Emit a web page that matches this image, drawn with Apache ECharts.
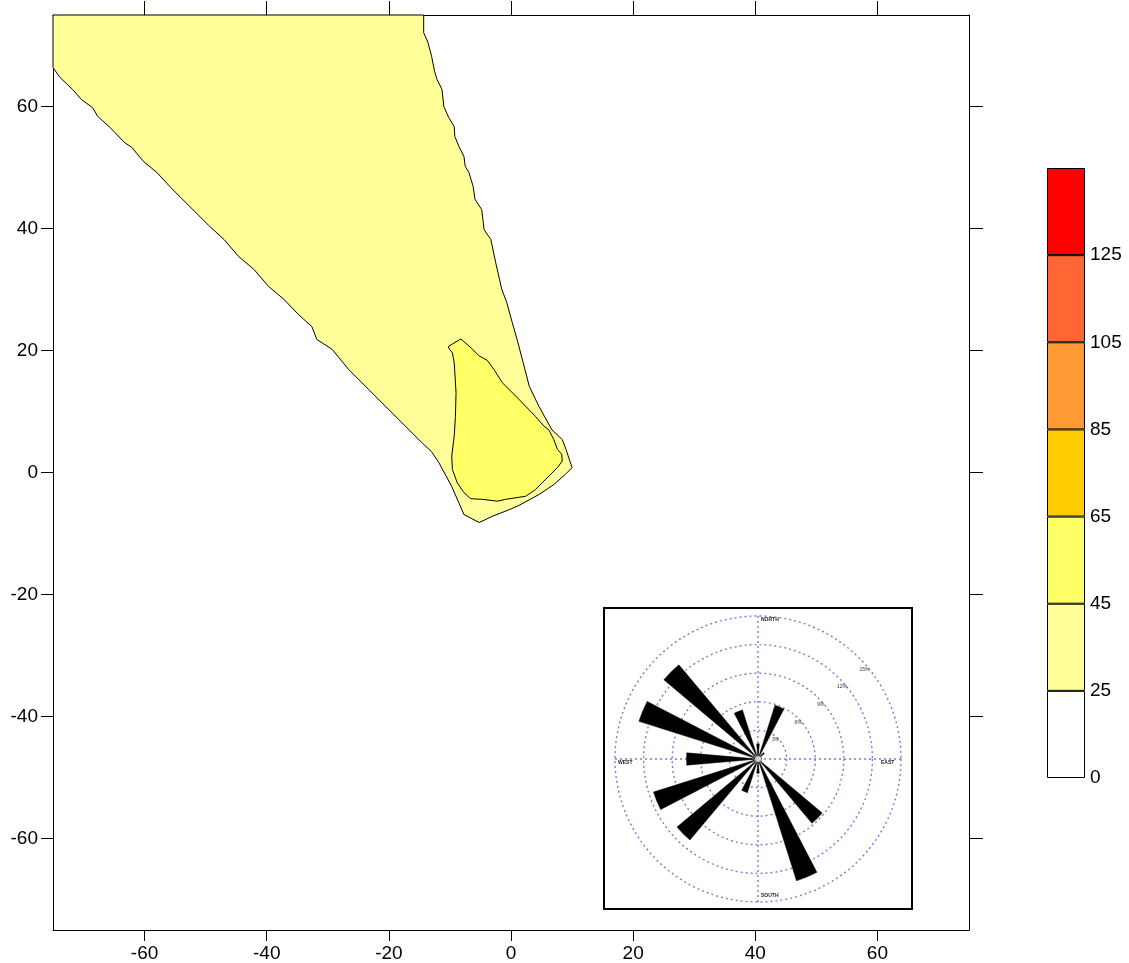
<!DOCTYPE html>
<html>
<head>
<meta charset="utf-8">
<script src="https://cdn.jsdelivr.net/npm/echarts@6/dist/echarts.min.js"></script>
<style>
  html, body { margin: 0; padding: 0; background: #fff; }
  #chart { width: 1129px; height: 963px; }
</style>
</head>
<body>
<div id="chart"></div>
<script>
// Axis ticks of the map (metres from the source)
const xTicks = [-60, -40, -20, 0, 20, 40, 60];
const yTicks = [-60, -40, -20, 0, 20, 40, 60];

// Contour levels and their fill colours
const levelLabels = ['0', '25', '45', '65', '85', '105', '125'];
const bandColors = ['#FFFFFF', '#FFFF99', '#FFFF66', '#FFCC00', '#FF9933', '#FF6633', '#FF0000'];

// Contour 25-45 (outer plume)
const zone25 = [
  [-75, 75], [-14.3, 75], [-14.3, 72.1], [-13.6, 70.5], [-13.0, 68.2], [-12.5, 65.7],
  [-12.1, 64.4], [-11.3, 62.8], [-11.0, 60.0], [-10.2, 58.2], [-9.3, 56.7], [-9.2, 55.1],
  [-8.5, 53.4], [-7.7, 51.8], [-7.5, 50.2], [-6.9, 49.2], [-6.2, 46.9], [-5.9, 44.8],
  [-4.8, 43.1], [-4.4, 39.8], [-3.3, 38.2], [-2.5, 34.4], [-1.5, 30.0], [-0.7, 27.9],
  [0.2, 24.6], [1.0, 21.8], [2.0, 18.0], [3.0, 14.1], [4.6, 10.8], [6.7, 7.0],
  [8.4, 5.4], [9.0, 3.8], [10.0, 0.8], [8.9, -0.3], [7.0, -2.0], [4.6, -3.6],
  [1.3, -5.4], [-0.3, -6.1], [-3.1, -7.2], [-5.2, -8.2], [-7.7, -6.9], [-9.7, -2.3],
  [-11.8, 1.6], [-13.0, 3.4], [-14.6, 4.9], [-18.4, 8.7], [-23.3, 13.6], [-26.6, 16.9],
  [-29.3, 20.2], [-31.8, 21.8], [-32.6, 23.9], [-34.8, 25.9], [-37.2, 28.4], [-39.7, 30.5],
  [-42.1, 33.3], [-44.6, 35.4], [-47.0, 38.2], [-49.5, 40.5], [-51.8, 42.8], [-53.9, 44.9],
  [-55.7, 46.7], [-58.0, 49.2], [-60.2, 51.0], [-62.1, 53.3], [-63.3, 54.1], [-65.7, 56.6],
  [-67.7, 58.4], [-68.5, 59.8], [-70.3, 61.1], [-71.8, 62.8], [-73.9, 64.8], [-75, 66.4]
];

// Contour 45-65 (inner core)
const zone45 = [
  [-10.2, 20.7], [-8.2, 21.9], [-6.3, 20.2], [-5.2, 19.1], [-3.9, 18.4], [-2.8, 16.9],
  [-1.4, 14.7], [1.3, 12.0], [4.0, 9.2], [5.4, 7.6], [6.2, 7.0], [7.0, 5.4],
  [7.6, 3.8], [8.3, 3.0], [8.4, 1.9], [7.6, 0.8], [6.2, -0.6], [5.1, -1.7],
  [4.0, -2.8], [2.4, -3.9], [-0.9, -4.4], [-2.2, -4.7], [-4.7, -4.4], [-6.6, -4.3],
  [-7.7, -3.3], [-8.8, -1.7], [-9.6, 0.5], [-9.7, 2.7], [-9.3, 6.0], [-9.1, 9.2],
  [-9.0, 13.1], [-9.3, 18.0], [-9.6, 19.6], [-10.2, 20.4]
];

// Wind rose: frequency (%) for each of 16 directions
const directions = ['N', 'NNE', 'NE', 'ENE', 'E', 'ESE', 'SE', 'SSE',
                    'S', 'SSW', 'SW', 'WSW', 'W', 'WNW', 'NW', 'NNW'];
const windFreq = [1.6, 5.9, 0.9, 0, 0, 0, 8.8, 13.4, 1.5, 3.7, 11.1, 11.5, 7.5, 13.1, 12.9, 5.4];
const ringMax = 15;
const ringStep = 3;

const FONT = '"Liberation Sans", Arial, sans-serif';
const roseCenter = [758, 759];
const roseRadius = 143;
const gridLine = { color: '#7b7bd6', width: 1.4, type: [2, 3] };

function polygonSeries(points, color, z) {
  return {
    type: 'custom',
    xAxisIndex: 0,
    yAxisIndex: 0,
    data: points,
    z: z,
    renderItem: function (params, api) {
      if (params.dataIndex !== 0) return;
      const pts = points.map(p => api.coord(p));
      return {
        type: 'polygon',
        shape: { points: pts },
        style: { fill: color, stroke: '#000', lineWidth: 1 }
      };
    }
  };
}

const colorbarSeries = bandColors.map((c) => ({
  type: 'bar',
  xAxisIndex: 2,
  yAxisIndex: 2,
  stack: 'bar',
  barWidth: '100%',
  data: [1],
  itemStyle: { color: c, borderColor: '#000', borderWidth: 1 },
  silent: true
}));

const frameLine = { show: true, onZero: false, lineStyle: { color: '#000', width: 1 } };
const tickStyle = { color: '#000', width: 1 };

const option = {
  animation: false,
  backgroundColor: '#fff',
  textStyle: { fontFamily: FONT },
  grid: [
    { left: 53, top: 15, width: 916, height: 915 },
    { left: 1047, top: 168, width: 38, height: 610 }
  ],
  xAxis: [
    {
      gridIndex: 0, type: 'value', min: -75, max: 75, position: 'bottom',
      axisLine: frameLine,
      axisTick: { customValues: xTicks, length: 11, lineStyle: tickStyle },
      axisLabel: { customValues: xTicks, margin: 14, fontSize: 19, color: '#000', fontFamily: FONT },
      splitLine: { show: false }
    },
    {
      gridIndex: 0, type: 'value', min: -75, max: 75, position: 'top',
      axisLine: frameLine,
      axisTick: { customValues: xTicks, length: 14, lineStyle: tickStyle },
      axisLabel: { show: false },
      splitLine: { show: false }
    },
    {
      gridIndex: 1, type: 'category', data: ['level'],
      show: false
    }
  ],
  yAxis: [
    {
      gridIndex: 0, type: 'value', min: -75, max: 75, position: 'left',
      axisLine: frameLine,
      axisTick: { show: true, customValues: yTicks, length: 12, lineStyle: tickStyle },
      axisLabel: { customValues: yTicks, margin: 15, fontSize: 19, color: '#000', fontFamily: FONT },
      splitLine: { show: false }
    },
    {
      gridIndex: 0, type: 'value', min: -75, max: 75, position: 'right',
      axisLine: frameLine,
      axisTick: { show: true, customValues: yTicks, length: 14, lineStyle: tickStyle },
      axisLabel: { show: false },
      splitLine: { show: false }
    },
    {
      gridIndex: 1, type: 'value', min: 0, max: bandColors.length, position: 'right',
      axisLine: { show: false },
      axisTick: { show: false },
      splitLine: { show: false },
      axisLabel: {
        customValues: levelLabels.map((_, i) => i),
        formatter: v => levelLabels[v] ?? '',
        margin: 5, fontSize: 19, color: '#000', fontFamily: FONT
      }
    }
  ],
  polar: [
    { center: roseCenter, radius: roseRadius },
    { center: roseCenter, radius: roseRadius },
    { center: roseCenter, radius: roseRadius }
  ],
  angleAxis: [
    {
      polarIndex: 0, type: 'category', data: directions,
      startAngle: 90 + 360 / directions.length / 2, clockwise: true,
      axisLine: { show: false }, axisTick: { show: false },
      axisLabel: { show: false }, splitLine: { show: false }
    },
    {
      polarIndex: 1, type: 'value', min: 0, max: 360, interval: 90,
      startAngle: 90, clockwise: true,
      axisLine: { show: false }, axisTick: { show: false },
      axisLabel: { show: false },
      splitLine: { show: true, lineStyle: gridLine }
    },
    {
      polarIndex: 2, type: 'value', min: 0, max: 360, startAngle: 38,
      axisLine: { show: false }, axisTick: { show: false },
      axisLabel: { show: false }, splitLine: { show: false }
    }
  ],
  radiusAxis: [
    {
      polarIndex: 0, type: 'value', min: 0, max: ringMax,
      axisLine: { show: false }, axisTick: { show: false },
      axisLabel: { show: false }, splitLine: { show: false }
    },
    {
      polarIndex: 1, type: 'value', min: 0, max: ringMax, interval: ringStep,
      axisLine: { show: false }, axisTick: { show: false },
      axisLabel: { show: false },
      splitLine: { show: true, lineStyle: gridLine }
    },
    {
      polarIndex: 2, type: 'value', min: 0, max: ringMax, interval: ringStep,
      axisLine: { show: false }, axisTick: { show: false },
      splitLine: { show: false },
      axisLabel: {
        formatter: v => (v ? v + '%' : ''),
        fontSize: 5, color: '#333', margin: 2
      }
    }
  ],
  graphic: [
    {
      type: 'rect', silent: true,
      shape: { x: 604, y: 608, width: 308, height: 301 },
      style: { fill: 'none', stroke: '#000', lineWidth: 2 }
    },
    {
      type: 'text', silent: true, x: roseCenter[0] + 3, y: roseCenter[1] - roseRadius + 1,
      style: { text: 'NORTH', fontSize: 5, fontWeight: 'bold', fill: '#222', fontFamily: FONT }
    },
    {
      type: 'text', silent: true, x: roseCenter[0] + 3, y: roseCenter[1] + roseRadius - 9,
      style: { text: 'SOUTH', fontSize: 5, fontWeight: 'bold', fill: '#222', fontFamily: FONT }
    },
    {
      type: 'text', silent: true, x: roseCenter[0] - roseRadius + 3, y: roseCenter[1] + 1,
      style: { text: 'WEST', fontSize: 5, fontWeight: 'bold', fill: '#222', fontFamily: FONT }
    },
    {
      type: 'text', silent: true, x: roseCenter[0] + roseRadius - 20, y: roseCenter[1] + 1,
      style: { text: 'EAST', fontSize: 5, fontWeight: 'bold', fill: '#222', fontFamily: FONT }
    }
  ],
  series: [
    polygonSeries(zone25, bandColors[1], 2),
    polygonSeries(zone45, bandColors[2], 3),
    ...colorbarSeries,
    {
      type: 'bar',
      coordinateSystem: 'polar',
      polarIndex: 0,
      data: windFreq,
      barWidth: '44%',
      itemStyle: { color: '#000', borderColor: '#000', borderWidth: 0.5 },
      z: 5,
      silent: true
    },
    {
      type: 'scatter',
      coordinateSystem: 'polar',
      polarIndex: 0,
      data: [[0, 'N']],
      symbol: 'circle',
      symbolSize: 7,
      itemStyle: { color: '#fff', borderColor: '#333', borderWidth: 1 },
      z: 6,
      silent: true
    }
  ]
};

const chart = echarts.init(document.getElementById('chart'), null, { renderer: 'canvas' });
chart.setOption(option);
</script>
</body>
</html>
